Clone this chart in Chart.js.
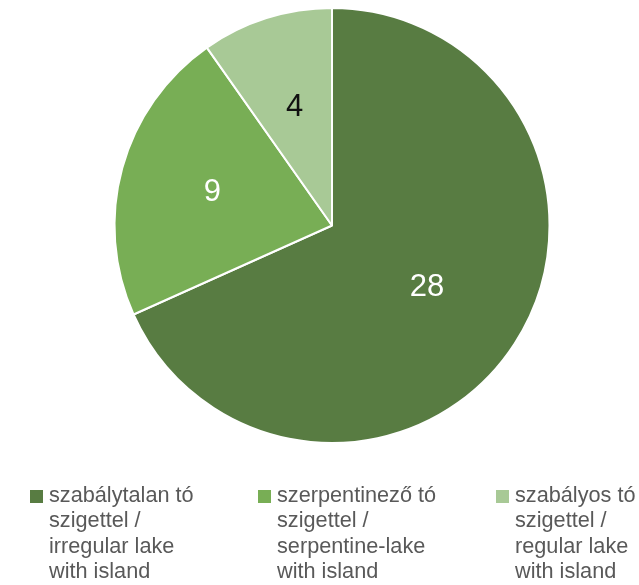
<!DOCTYPE html>
<html>
<head>
<meta charset="utf-8">
<script src="https://cdn.jsdelivr.net/npm/chart.js@4/dist/chart.umd.min.js"></script>
<style>
  html, body { margin: 0; padding: 0; background: #fff; }
  #wrap { width: 639px; height: 585px; }
</style>
</head>
<body>
<div id="wrap"><canvas id="mycanvas" width="639" height="585"></canvas></div>
<script>
// data
var categories = [
    ["szabálytalan tó", "szigettel /", "irregular lake", "with island"],
    ["szerpentinező tó", "szigettel /", "serpentine-lake", "with island"],
    ["szabályos tó", "szigettel /", "regular lake", "with island"]
];
var lakeCounts = [28, 9, 4];
var sliceColors = ["#587c42", "#78ae55", "#a8c996"];
var valueColors = ["#ffffff", "#ffffff", "#111111"];

// numbers inside the slices
var valueLabels = {
    id: 'valueLabels',
    afterDatasetsDraw: function(chart) {
        var ctx = chart.ctx;
        var meta = chart.getDatasetMeta(0);
        var ratio = [0.52, 0.57, 0.57];
        ctx.save();
        ctx.font = '31px "Liberation Sans", Arial, sans-serif';
        ctx.textAlign = 'center';
        ctx.textBaseline = 'middle';
        meta.data.forEach(function(arc, i) {
            var p = arc.getProps(['x', 'y', 'startAngle', 'endAngle', 'outerRadius']);
            var mid = (p.startAngle + p.endAngle) / 2;
            var r = p.outerRadius * ratio[i];
            ctx.fillStyle = valueColors[i];
            ctx.fillText(String(lakeCounts[i]), p.x + Math.cos(mid) * r, p.y + Math.sin(mid) * r);
        });
        ctx.restore();
    }
};

// legend with multi-line labels under the pie
var bottomLegend = {
    id: 'bottomLegend',
    afterDraw: function(chart) {
        var ctx = chart.ctx;
        var itemX = [30, 258, 496];
        var top = 496;
        var lineH = 25.3;
        ctx.save();
        ctx.font = '21.7px "Liberation Sans", Arial, sans-serif';
        ctx.textBaseline = 'middle';
        ctx.textAlign = 'left';
        chart.data.labels.forEach(function(lines, i) {
            ctx.fillStyle = sliceColors[i];
            ctx.fillRect(itemX[i], top - 6, 13, 13);
            ctx.fillStyle = '#595959';
            for (var k = 0; k < lines.length; k++) {
                ctx.fillText(lines[k], itemX[i] + 19, top + k * lineH);
            }
        });
        ctx.restore();
    }
};

var chartdata = {
    labels: categories,
    datasets: [
        {
            data: lakeCounts,
            backgroundColor: sliceColors,
            borderColor: "#ffffff",
            borderWidth: 2
        }
    ]
};

var ctx = document.getElementById('mycanvas');

var PieChart = new Chart(ctx, {
    type: 'pie',
    data: chartdata,
    options: {
        responsive: false,
        animation: false,
        layout: { padding: { top: 7, bottom: 141, left: 25, right: 0 } },
        plugins: {
            legend: { display: false },
            tooltip: { enabled: false }
        }
    },
    plugins: [valueLabels, bottomLegend]
});
</script>
</body>
</html>
